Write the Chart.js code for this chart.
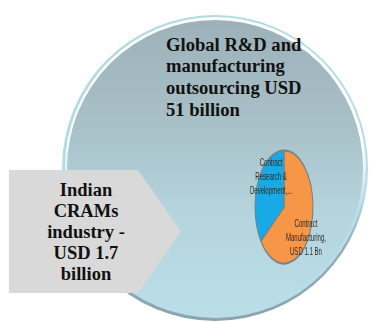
<!DOCTYPE html>
<html>
<head>
<meta charset="utf-8">
<script src="https://cdn.jsdelivr.net/npm/chart.js@4.4.1/dist/chart.umd.min.js"></script>
<style>
  html, body { margin: 0; padding: 0; background: #fff; }
  #stage { position: relative; width: 371px; height: 322px; overflow: hidden; }
  .disc { position: absolute; border-radius: 50%; }
  /* outer rim: light blue on top, shaded on the bottom */
  #rim { left: 62px; top: 14.5px; width: 306px; height: 306px;
    background: linear-gradient(to bottom, #b1dae5 0%, #b3dce7 58%, #92aeb7 76%, #8aa5ae 100%); }
  #gleam { left: 64.5px; top: 17px; width: 301px; height: 301px;
    background: linear-gradient(to bottom, #ffffff 0%, #ffffff 42%, #badee8 64%, #badee8 100%); }
  #globe { left: 67px; top: 19.5px; width: 296px; height: 296px;
    background: linear-gradient(to bottom, #9db1b9 0%, #a8c0c7 35%, #b5d4dd 65%, #badee8 100%); }
  .serif { font-family: "Liberation Serif", "DejaVu Serif", serif; font-weight: 700; color: #111; }
  #title { position: absolute; left: 166px; top: 33.7px; white-space: nowrap;
    font-size: 18.6px; line-height: 21.7px; }
  #arrow { position: absolute; left: 9px; top: 170px; width: 172px; height: 123px;
    background: #d9d9d9;
    clip-path: polygon(0 0, 129px 0, 100% 50%, 129px 100%, 0 100%); }
  #india { position: absolute; left: 9px; top: 180px; width: 154px; text-align: center;
    font-size: 18.5px; line-height: 21px; }
  #pieWrap { position: absolute; left: 184px; top: 106.5px; width: 200px; height: 200px; }
</style>
</head>
<body>
<div id="stage">
  <div class="disc" id="rim"></div>
  <div class="disc" id="gleam"></div>
  <div class="disc" id="globe"></div>
  <div id="title" class="serif">Global R&amp;D and<br>manufacturing<br>outsourcing USD<br>51 billion</div>
  <div id="pieWrap"><canvas id="pie" width="200" height="200"></canvas></div>
  <div id="arrow"></div>
  <div id="india" class="serif">Indian<br>CRAMs<br>industry -<br>USD 1.7<br>billion</div>
</div>
<script>
// Indian CRAMs split, USD bn
const segments = [
  ['Contract', 'Manufacturing,', 'USD 1.1 Bn'],
  ['Contract', 'Research &', 'Development,...']
];
const segmentValues = [1.1, 0.6];
const segmentColors = ['#f79646', '#17aae6'];

// squeeze the whole pie (and its labels) horizontally into an oval
const squeeze = {
  id: 'squeeze',
  beforeDraw(chart, args, opts) {
    const ctx = chart.ctx;
    const mid = chart.width / 2;
    ctx.save();
    ctx.translate(mid, 0);
    ctx.scale(opts.factor, 1);
    ctx.translate(-mid, 0);
  },
  afterDraw(chart) {
    chart.ctx.restore();
  }
};

// writes each slice's label lines near its middle angle
const sliceLabels = {
  id: 'sliceLabels',
  afterDatasetsDraw(chart, args, opts) {
    const ctx = chart.ctx;
    const meta = chart.getDatasetMeta(0);
    ctx.save();
    ctx.font = opts.font;
    ctx.fillStyle = opts.color;
    ctx.textAlign = 'center';
    ctx.textBaseline = 'middle';
    meta.data.forEach((arc, i) => {
      const p = arc.getProps(['x', 'y', 'startAngle', 'endAngle', 'outerRadius'], true);
      const spot = opts.place[i];
      const a = (p.startAngle + p.endAngle) / 2 + spot.shift * Math.PI / 180;
      const r = p.outerRadius * spot.dist;
      const cx = p.x + Math.cos(a) * r;
      const cy = p.y + Math.sin(a) * r;
      const lines = chart.data.labels[i];
      lines.forEach((line, j) => {
        ctx.fillText(line, cx, cy + (j - (lines.length - 1) / 2) * opts.lineHeight);
      });
    });
    ctx.restore();
  }
};

new Chart(document.getElementById('pie'), {
  type: 'pie',
  data: {
    labels: segments,
    datasets: [{
      data: segmentValues,
      backgroundColor: segmentColors,
      borderColor: '#74848a',
      borderWidth: 2,
      radius: 56.5
    }]
  },
  options: {
    responsive: false,
    animation: false,
    events: [],
    layout: { padding: 0 },
    plugins: {
      legend: { display: false },
      tooltip: { enabled: false },
      squeeze: { factor: 0.513 },
      sliceLabels: {
        font: '11.8px "Liberation Sans", Arial, sans-serif',
        color: '#2b2b2b',
        lineHeight: 14,
        place: [{ shift: 9, dist: 0.93 }, { shift: 24, dist: 0.70 }]
      }
    }
  },
  plugins: [squeeze, sliceLabels]
});
</script>
</body>
</html>
